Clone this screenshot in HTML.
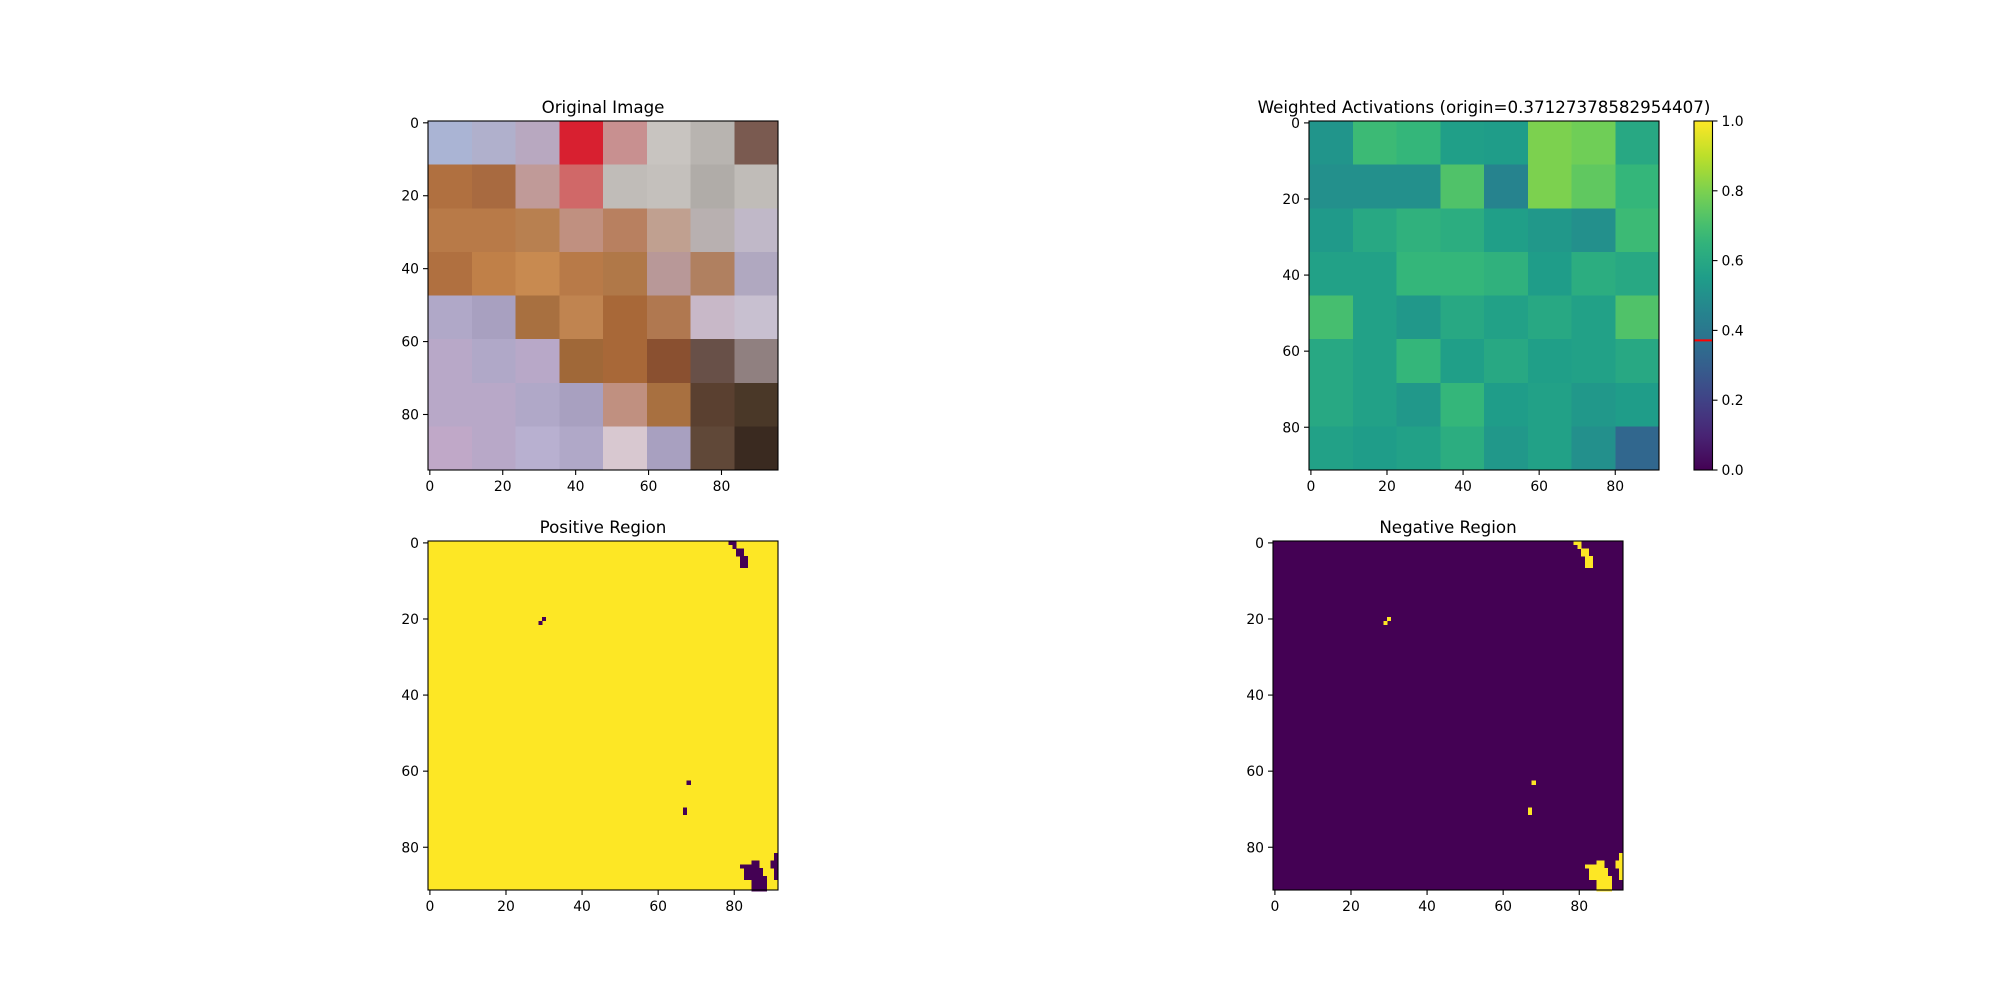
<!DOCTYPE html>
<html><head><meta charset="utf-8"><style>
html,body{margin:0;padding:0;background:#fff;width:2000px;height:1000px;overflow:hidden}
svg{display:block}
text{font-family:"DejaVu Sans","Liberation Sans",sans-serif;fill:#000}
</style></head><body>
<svg id="fig" width="2000" height="1000" xmlns="http://www.w3.org/2000/svg"></svg>
<script>
const originValue = 0.37127378582954407;
const axisTicks = [0, 20, 40, 60, 80];
const cbarTicks = [0.0, 0.2, 0.4, 0.6, 0.8, 1.0];
const cbarTickLabels = ["0.0", "0.2", "0.4", "0.6", "0.8", "1.0"];
const photoColors = [
 ["#aab4d4","#b0b0cc","#b8a8c0","#d82030","#c89090","#c8c4c0","#b8b4b0","#7a5a50"],
 ["#b07040","#a86a40","#c09a98","#d06868","#c0bcb8","#c4c0bc","#b0aca8","#c0bcb8"],
 ["#b87a48","#b87a48","#b88050","#c09080","#b88060","#c0a090","#b8b0b0","#c0b8c8"],
 ["#b07040","#c08048","#c88a50","#b87a48","#b07848","#b89898","#b08060","#b0a8c0"],
 ["#b0a8c8","#a8a0c0","#a87040","#c08450","#a86838","#b07850","#c8b8c8","#c8c0d0"],
 ["#b8a8c8","#b0a8c8","#b8a8c8","#a06838","#a86838","#8a5030","#685048","#908080"],
 ["#b8a8c8","#b8a8c8","#b0a8c8","#a8a0c0","#c09080","#a87040","#5a4030","#4a3828"],
 ["#c0a8c8","#b8a8c8","#b8b0d0","#b0a8c8","#d8c8d0","#a8a0c0","#604838","#3a2a20"]];
const activationValues = [
 [0.52,0.68,0.66,0.56,0.55,0.80,0.78,0.60],
 [0.50,0.50,0.50,0.72,0.45,0.80,0.75,0.66],
 [0.54,0.60,0.64,0.62,0.56,0.53,0.50,0.68],
 [0.57,0.57,0.66,0.66,0.64,0.55,0.62,0.60],
 [0.70,0.57,0.53,0.60,0.57,0.60,0.57,0.72],
 [0.60,0.57,0.66,0.56,0.60,0.56,0.57,0.60],
 [0.60,0.57,0.53,0.66,0.55,0.57,0.53,0.55],
 [0.57,0.55,0.57,0.62,0.53,0.57,0.50,0.33]];
// negative-region pixels as [row, col]
const negPixels = [[0,79],[0,80],[1,80],[2,81],[2,82],[3,81],[3,82],[4,82],[4,83],[5,82],[5,83],[6,82],[6,83],
 [20,30],[21,29],[63,68],[70,67],[71,67],
 [82,91],[83,91],[84,90],[84,91],[85,90],[85,91],[86,91],[87,91],[88,91],
 [84,85],[84,86],[85,82],[85,83],[85,84],[85,85],[85,86],
 [86,83],[86,84],[86,85],[86,86],[86,87],[87,83],[87,84],[87,85],[87,86],[87,87],
 [88,83],[88,84],[88,85],[88,86],[88,87],[88,88],
 [89,85],[89,86],[89,87],[89,88],[90,85],[90,86],[90,87],[90,88],[91,85],[91,86],[91,87],[91,88]];

const NS="http://www.w3.org/2000/svg";
const svg=document.getElementById('fig');
function mk(tag,attrs,parent){const e=document.createElementNS(NS,tag);for(const k in attrs)e.setAttribute(k,attrs[k]);(parent||svg).appendChild(e);return e;}
const VIR=[[68,1,84],[72,40,120],[62,73,137],[49,104,142],[38,130,142],[31,158,137],[53,183,121],[110,206,88],[181,222,43],[253,231,37]];
function viridis(v){v=Math.max(0,Math.min(1,v));const t=v*9,i=Math.min(8,Math.floor(t)),f=t-i;const a=VIR[i],b=VIR[i+1];
 return 'rgb('+a.map((c,k)=>Math.round(c+(b[k]-c)*f)).join(',')+')';}

function axes(name,L,T,W,H,n,title){
 const g=mk('g',{});
 
 
 const px=W/n;
 const xs=i=>L+(i+0.5)*px, ys=i=>T+(i+0.5)*px;
 const t=mk('text',{x:L+W/2,y:T-8,'font-size':16.7,'text-anchor':'middle'},g);
 
 
 t.textContent=title;
 return {g,L,T,W,H,n,px,xs,ys};
}
function finishAxes(a){
 const {g,L,T,W,H}=a;
 const fr=mk('rect',{x:L,y:T,width:W,height:H,fill:'none',stroke:'#000','stroke-width':1.1},g);
 
 
 axisTicks.forEach(v=>{
  const x=a.xs(v),y=a.ys(v);
  mk('line',{x1:x,x2:x,y1:T+H,y2:T+H+5,stroke:'#000','stroke-width':1.1},g);
  const tx=mk('text',{x:x,y:T+H+21,'font-size':13.9,'text-anchor':'middle'},g);
  
  
  tx.textContent=v;
  mk('line',{x1:L-5,x2:L,y1:y,y2:y,stroke:'#000','stroke-width':1.1},g);
  const ty=mk('text',{x:L-9,y:y+5,'font-size':13.9,'text-anchor':'end'},g);
  
  
  ty.textContent=v;
 });
}
function blocks(a,grid,colorFn){
 const rows=grid.length,cols=grid[0].length;const bw=a.W/cols,bh=a.H/rows;
 grid.forEach((row,r)=>row.forEach((v,c)=>{
  const e=mk('rect',{x:a.L+c*bw,y:a.T+r*bh,width:bw+0.6,height:bh+0.6,fill:colorFn(v),'shape-rendering':'crispEdges'},a.g);
  
  
 }));
}
// Original image
const a1=axes('original-image-axes',428,121,350,349,96,'Original Image');
blocks(a1,photoColors,v=>v);
finishAxes(a1);
// Weighted activations
const a2=axes('weighted-activations-axes',1309,121,350,349,92,'Weighted Activations (origin='+originValue+')');
blocks(a2,activationValues,viridis);
finishAxes(a2);
// colorbar
(function(){
 const L=1694,T=121,W=18.5,H=349;
 const g=mk('g',{});
 
 
 const defs=mk('defs',{},g);
 const lg=mk('linearGradient',{id:'vg',x1:0,y1:1,x2:0,y2:0},defs);
 for(let i=0;i<=20;i++)mk('stop',{offset:(i/20),'stop-color':viridis(i/20)},lg);
 mk('rect',{x:L,y:T,width:W,height:H,fill:'url(#vg)'},g);
 const yv=v=>T+H-v*H;
 const rl=mk('line',{x1:L,x2:L+W,y1:yv(originValue),y2:yv(originValue),stroke:'#ff0000','stroke-width':2},g);
 
 
 mk('rect',{x:L,y:T,width:W,height:H,fill:'none',stroke:'#000','stroke-width':1.1},g);
 cbarTicks.forEach((v,i)=>{
  mk('line',{x1:L+W,x2:L+W+5,y1:yv(v),y2:yv(v),stroke:'#000','stroke-width':1.1},g);
  const t=mk('text',{x:L+W+9,y:yv(v)+5,'font-size':13.9},g);
  
  
  t.textContent=cbarTickLabels[i];
 });
})();
// masks
function maskAxes(name,L,title,bg,fg){
 const a=axes(name,L,541,350,349,92,title);
 const b=mk('rect',{x:L,y:541,width:350,height:349,fill:bg},a.g);
 
 
 negPixels.forEach(([r,c])=>{
  const e=mk('rect',{x:L+c*a.px,y:541+r*a.px,width:a.px+0.3,height:a.px+0.3,fill:fg,'shape-rendering':'crispEdges'},a.g);
  
  
 });
 finishAxes(a);
}
maskAxes('positive-region-axes',428,'Positive Region','#fde725','#440154');
maskAxes('negative-region-axes',1273,'Negative Region','#440154','#fde725');
</script>
</body></html>
